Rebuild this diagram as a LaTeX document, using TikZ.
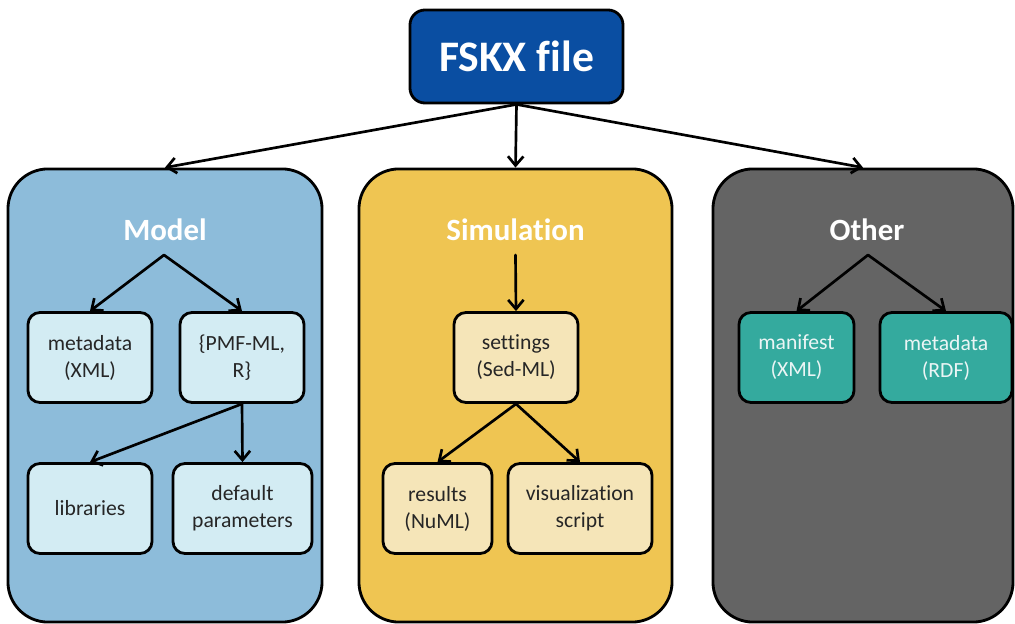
\documentclass[tikz,border=0pt]{standalone}
\usepackage{fontspec}
\setmainfont{Carlito}[Ligatures=NoCommon]
\usetikzlibrary{arrows.meta}

\definecolor{fskxblue}{HTML}{0A4EA2}
\definecolor{modelblue}{HTML}{8DBCDA}
\definecolor{modellight}{HTML}{D3ECF3}
\definecolor{simyellow}{HTML}{EFC552}
\definecolor{simlight}{HTML}{F5E5B8}
\definecolor{othergray}{HTML}{646464}
\definecolor{otherteal}{HTML}{34AA9E}
\definecolor{boxtext}{HTML}{262626}

\begin{document}
\begin{tikzpicture}[
  x=0.025cm, y=-0.025cm,
  line cap=round,
  every node/.style={font=\fontsize{15.4}{19.2}\selectfont, align=center},
  arr/.style={line width=1.9pt, -{Straight Barb[length=6.5pt,width=11pt,line width=1.9pt]}},
  bigbox/.style={draw, line width=2pt, rounded corners=1cm, minimum height=11.325cm},
  smallbox/.style={draw, line width=2pt, rounded corners=0.3cm, minimum height=2.25cm, text=boxtext},
  title/.style={text=white, font=\fontsize{22}{26}\selectfont\bfseries}
]
  \useasboundingbox (0,0) rectangle (1015,624);

  \node[draw, line width=2pt, rounded corners=0.375cm, fill=fskxblue,
        minimum width=5.325cm, minimum height=2.325cm, text=white,
        font=\fontsize{31}{36}\selectfont\bfseries] (fskx) at (516.5,56.5) {FSKX file};

  \node[bigbox, fill=modelblue, minimum width=7.85cm] (model) at (165,395.5) {};
  \node[bigbox, fill=simyellow, minimum width=7.825cm] (sim) at (515.5,395.5) {};
  \node[bigbox, fill=othergray, minimum width=7.5cm] (other) at (863,395.5) {};

  \draw[arr] (fskx.south) -- (model.north);
  \draw[arr] (fskx.south) -- (sim.north);
  \draw[arr] (fskx.south) -- (other.north);

  \node[title] (mtitle) at (165,230) {Model};
  \node[title] (stitle) at (515.5,230) {Simulation};
  \node[title] (otitle) at (867,230) {Other};

  \coordinate (mtop) at (164,255);
  \coordinate (stop) at (515.5,255);
  \coordinate (otop) at (868,255);

  \node[smallbox, fill=modellight, minimum width=3.1cm] (meta) at (90,357.5) {metadata\\(XML)};
  \node[smallbox, fill=modellight, minimum width=3.1cm] (pmf) at (242,357.5) {\{PMF-ML,\\R\}};
  \node[smallbox, fill=modellight, minimum width=3.1cm] (lib) at (90,508.5) {libraries};
  \node[smallbox, fill=modellight, minimum width=3.475cm] (defp) at (242.5,508.5) {default\\parameters};

  \node[smallbox, fill=simlight, minimum width=3.1cm] (set) at (516,357.5) {settings\\(Sed-ML)};
  \node[smallbox, fill=simlight, minimum width=2.725cm] (res) at (437.5,508.5) {results\\(NuML)};
  \node[smallbox, fill=simlight, minimum width=3.6cm] (vis) at (580,508.5) {visualization\\script};

  \node[smallbox, fill=otherteal, minimum width=2.875cm, text=white!92!teal] (man) at (796.5,357.5) {manifest\\(XML)};
  \node[smallbox, fill=otherteal, minimum width=3.3cm, text=white!92!teal] (rdf) at (946,357.5) {metadata\\(RDF)};

  \draw[arr] (mtop) -- (meta.north);
  \draw[arr] (mtop) -- (pmf.north);
  \draw[arr] (pmf.south) -- (lib.north);
  \draw[arr] (pmf.south) -- (defp.north);

  \draw[arr] (stop) -- (set.north);
  \draw[arr] (set.south) -- (res.north);
  \draw[arr] (set.south) -- (vis.north);

  \draw[arr] (otop) -- (man.north);
  \draw[arr] (otop) -- (rdf.north);
\end{tikzpicture}
\end{document}
